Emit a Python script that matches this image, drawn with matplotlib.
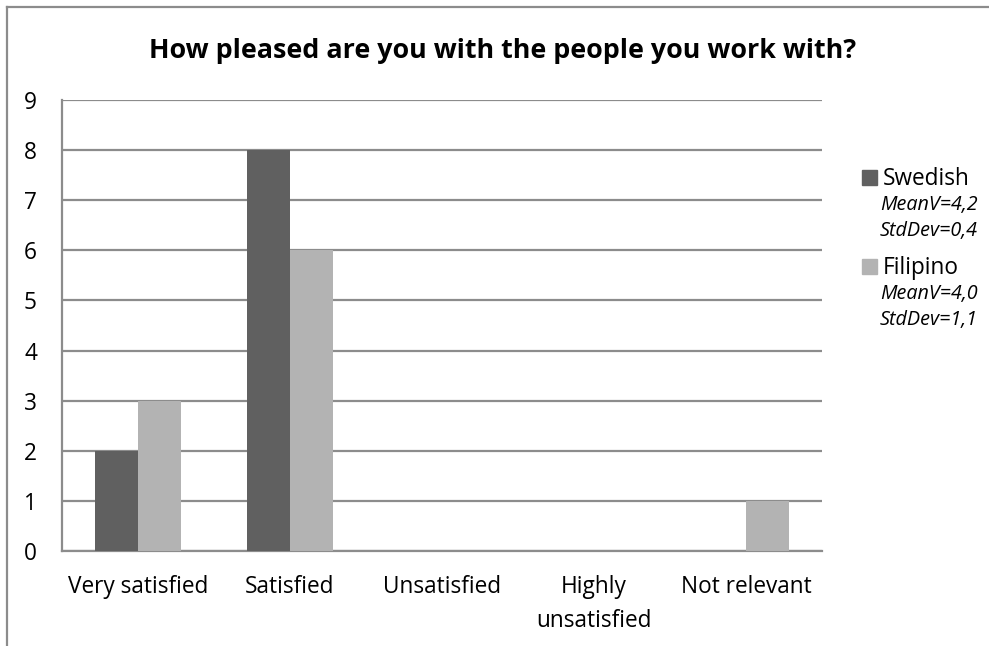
import matplotlib.pyplot as plt
import numpy as np
from matplotlib.lines import Line2D
from matplotlib.patches import Rectangle

plt.rcParams['font.family'] = ['Open Sans', 'DejaVu Sans']

categories = ['Very satisfied', 'Satisfied', 'Unsatisfied', 'Highly\nunsatisfied', 'Not relevant']
swedish = [2, 8, 0, 0, 0]
filipino = [3, 6, 0, 0, 1]
series_names = ['Swedish', 'Filipino']
series_stats = [['MeanV=4,2', 'StdDev=0,4'], ['MeanV=4,0', 'StdDev=1,1']]
colors = ['#606060', '#b3b3b3']
grid_color = '#8c8c8c'

W, H = 989, 646
fig = plt.figure(figsize=(W / 100, H / 100), dpi=100)
ax = fig.add_axes([62 / W, 1 - 551 / H, (822 - 62) / W, (551 - 100) / H])

x = np.arange(len(categories))
w = 0.286
ax.bar(x - w / 2, swedish, w, color=colors[0], zorder=3)
ax.bar(x + w / 2, filipino, w, color=colors[1], zorder=3)

ax.set_xlim(-0.5, len(categories) - 0.5)
ax.set_ylim(0, 9)
ax.set_yticks(range(0, 10))
ax.set_xticks(x)
ax.set_xticklabels(categories, fontsize=16.3, linespacing=1.6)
ax.tick_params(axis='y', length=0, labelsize=16.3, pad=18)
ax.tick_params(axis='x', length=0, pad=17)
ax.yaxis.grid(True, color=grid_color, linewidth=1.6, zorder=0)
for s in ['top', 'right']:
    ax.spines[s].set_visible(False)
for s in ['left', 'bottom']:
    ax.spines[s].set_color(grid_color)
    ax.spines[s].set_linewidth(1.6)

fig.text(503 / W, 1 - 58 / H, 'How pleased are you with the people you work with?',
         ha='center', va='baseline', fontsize=19.4, fontweight='bold')

# legend drawn by hand: square, series name, then the italic stats lines
name_base = [185, 274]
for i, name in enumerate(series_names):
    b = name_base[i]
    fig.patches.append(Rectangle((862 / W, 1 - b / H), 15 / W, 15 / H,
                                 transform=fig.transFigure, color=colors[i]))
    fig.text(883 / W, 1 - b / H, name, ha='left', va='baseline', fontsize=16.3)
    for j, line in enumerate(series_stats[i]):
        fig.text(880 / W, 1 - (b + 25 + 26 * j) / H, line, ha='left', va='baseline',
                 fontsize=14.2, fontstyle='italic')

# outer frame of the chart area
fig.lines.append(Line2D([7 / W, 1], [1 - 7 / H, 1 - 7 / H], transform=fig.transFigure,
                        color=grid_color, linewidth=1.6))
fig.lines.append(Line2D([7 / W, 7 / W], [0, 1 - 7 / H], transform=fig.transFigure,
                        color=grid_color, linewidth=1.6))

fig.savefig('out.png', dpi=100)
